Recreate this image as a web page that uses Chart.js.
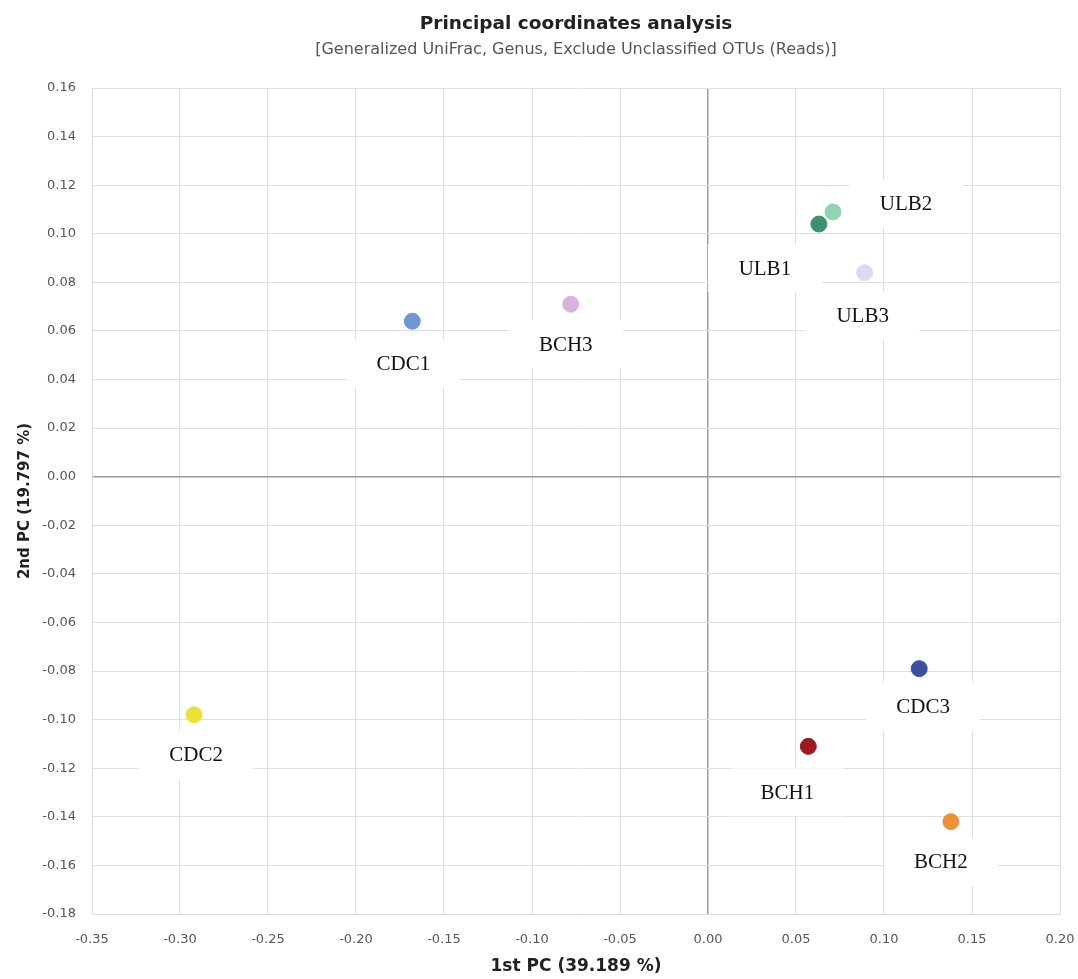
<!DOCTYPE html>
<html>
<head>
<meta charset="utf-8">
<script src="https://cdn.jsdelivr.net/npm/chart.js@4"></script>
<style>
  body { margin: 0; background: #fff; }
  #wrap { width: 1078px; height: 979px; position: relative; }
</style>
</head>
<body>
<div id="wrap"><canvas id="myChart"></canvas></div>
<script>
// sample names and their PCoA coordinates
var samples = ['CDC1', 'BCH3', 'ULB1', 'ULB2', 'ULB3', 'CDC3', 'BCH1', 'BCH2', 'CDC2'];
var pc1 = [-0.168, -0.078, 0.063, 0.071, 0.089, 0.120, 0.057, 0.138, -0.292];
var pc2 = [0.064, 0.071, 0.104, 0.109, 0.084, -0.079, -0.111, -0.142, -0.098];

// tick labels of both axes
var xTicks = [-0.35, -0.30, -0.25, -0.20, -0.15, -0.10, -0.05, 0.00, 0.05, 0.10, 0.15, 0.20];
var yTicks = [-0.18, -0.16, -0.14, -0.12, -0.10, -0.08, -0.06, -0.04, -0.02, 0.00,
              0.02, 0.04, 0.06, 0.08, 0.10, 0.12, 0.14, 0.16];

var chartTitle = 'Principal coordinates analysis';
var chartSubtitle = '[Generalized UniFrac, Genus, Exclude Unclassified OTUs (Reads)]';

// styling kept apart from the values
var pointColors = ['#6f95d2', '#d7b3dc', '#3e8f6f', '#93d3b5', '#dcdaf0',
                   '#3f4fa0', '#9b1b20', '#eb913c', '#e9e23a'];
// where each label box sits relative to its point (pixels)
var labelOffsets = [[-9, 42], [-5, 40], [-54, 44], [73, -8], [-2, 43],
                    [4, 38], [-21, 46], [-10, 40], [2, 40]];

var points = [];
for (var i = 0; i < samples.length; i++) {
    points.push({ x: pc1[i], y: pc2[i] });
}

var sans = '"DejaVu Sans", Verdana, sans-serif';

function fmt(v) {
    if (Math.abs(v) < 1e-9) return '0.00';
    return v.toFixed(2);
}

function gridColor(ctx) {
    if (ctx.tick && Math.abs(ctx.tick.value) < 1e-9) return '#9c9c9c';
    return '#dedede';
}
function gridWidth(ctx) {
    if (ctx.tick && Math.abs(ctx.tick.value) < 1e-9) return 1.5;
    return 1;
}

// title + subtitle centred over the plot area
var plotTitles = {
    id: 'plotTitles',
    afterDraw: function(chart) {
        var c = chart.ctx;
        var mid = (chart.chartArea.left + chart.chartArea.right) / 2;
        c.save();
        c.textAlign = 'center';
        c.textBaseline = 'middle';
        c.fillStyle = '#222';
        c.font = 'bold 18.5px ' + sans;
        c.fillText(chartTitle, mid, 24);
        c.fillStyle = '#555';
        c.font = '16px ' + sans;
        c.fillText(chartSubtitle, mid, 50);
        c.restore();
    }
};

// white boxed labels next to each point
var boxLabels = {
    id: 'boxLabels',
    afterDatasetsDraw: function(chart) {
        var c = chart.ctx;
        var meta = chart.getDatasetMeta(0);
        c.save();
        c.font = '21px "Liberation Serif", "Times New Roman", serif';
        c.textAlign = 'center';
        c.textBaseline = 'middle';
        meta.data.forEach(function(el, i) {
            var cx = el.x + labelOffsets[i][0];
            var cy = el.y + labelOffsets[i][1];
            c.fillStyle = '#ffffff';
            c.fillRect(cx - 57, cy - 24, 114, 48);
            c.fillStyle = '#111111';
            c.fillText(samples[i], cx, cy + 1);
        });
        c.restore();
    }
};

const config = {
    type: 'scatter',
    data: {
        datasets: [{
            label: 'Samples',
            data: points,
            backgroundColor: pointColors,
            borderColor: pointColors,
            pointRadius: 8,
            pointHoverRadius: 8
        }]
    },
    options: {
        responsive: true,
        maintainAspectRatio: false,
        animation: false,
        layout: { padding: { left: 0, right: 18, top: 88, bottom: 0 } },
        plugins: {
            legend: { display: false },
            tooltip: { enabled: false },
            title: { display: false }
        },
        scales: {
            x: {
                type: 'linear',
                min: -0.35,
                max: 0.20,
                afterBuildTicks: function(scale) {
                    scale.ticks = xTicks.map(function(v) { return { value: v }; });
                },
                afterFit: function(scale) {
                    scale.height = 65;
                    scale.paddingLeft = 0;
                    scale.paddingRight = 0;
                },
                grid: { color: gridColor, lineWidth: gridWidth, drawTicks: false },
                border: { color: '#dedede' },
                ticks: {
                    padding: 18,
                    color: '#555',
                    font: { family: sans, size: 13 },
                    maxRotation: 0,
                    callback: function(v) { return fmt(v); }
                },
                title: {
                    display: true,
                    text: '1st PC (39.189 %)',
                    color: '#222',
                    font: { family: sans, size: 17, weight: 'bold' },
                    padding: { top: 0, bottom: 2 }
                }
            },
            y: {
                type: 'linear',
                min: -0.18,
                max: 0.16,
                afterBuildTicks: function(scale) {
                    scale.ticks = yTicks.map(function(v) { return { value: v }; });
                },
                afterFit: function(scale) { scale.width = 92; },
                grid: { color: gridColor, lineWidth: gridWidth, drawTicks: false },
                border: { color: '#dedede' },
                ticks: {
                    padding: 16,
                    color: '#555',
                    font: { family: sans, size: 13 },
                    callback: function(v) { return fmt(v); }
                },
                title: {
                    display: true,
                    text: '2nd PC (19.797 %)',
                    color: '#222',
                    font: { family: sans, size: 15, weight: 'bold' },
                    padding: { top: 16, bottom: 0 }
                }
            }
        }
    },
    plugins: [boxLabels, plotTitles]
};

const myChart = new Chart(document.getElementById('myChart'), config);
</script>
</body>
</html>
